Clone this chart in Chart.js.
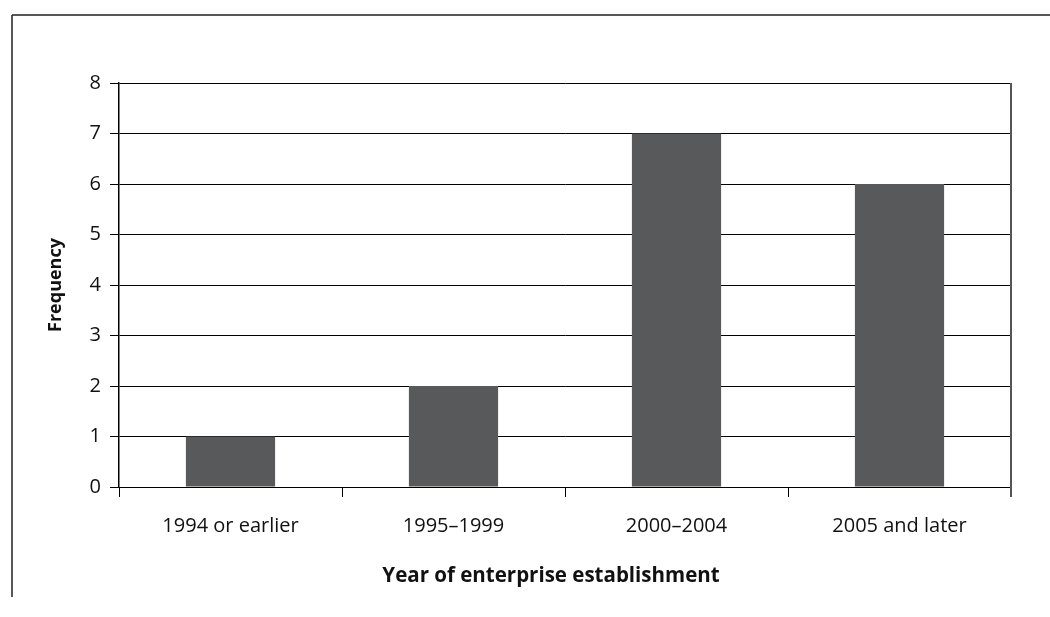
<!DOCTYPE html>
<html>
<head>
<meta charset="utf-8">
<script src="https://cdn.jsdelivr.net/npm/chart.js@4/dist/chart.umd.min.js"></script>
<style>
  html, body { margin: 0; padding: 0; background: #fff; }
  #wrap { width: 1050px; height: 617px; }
</style>
</head>
<body>
<div id="wrap"><canvas id="chart" width="1050" height="617"></canvas></div>
<script>
// establishment periods and how many enterprises fall in each
const periods = ["1994 or earlier", "1995\u20131999", "2000\u20132004", "2005 and later"];
const frequency = [1, 2, 7, 6];
const yTicks = [0, 1, 2, 3, 4, 5, 6, 7, 8];
const xTitle = "Year of enterprise establishment";

const FONT = "'Open Sans', Lato, sans-serif";

// thin frame along the top and left of the figure, right edge of the plot,
// and the x axis title (sits a little left of the plot centre)
const framePlugin = {
  id: "frame",
  beforeDraw(chart){
    const ctx = chart.ctx;
    ctx.save();
    ctx.strokeStyle = "#222";
    ctx.lineWidth = 1.5;
    ctx.beginPath();
    ctx.moveTo(12, 15);
    ctx.lineTo(1050, 15);
    ctx.moveTo(12, 15);
    ctx.lineTo(12, 597);
    ctx.stroke();
    ctx.restore();
  },
  afterDraw(chart){
    const a = chart.chartArea;
    const ctx = chart.ctx;
    ctx.save();
    ctx.strokeStyle = "#555";
    ctx.lineWidth = 2;
    ctx.beginPath();
    ctx.moveTo(a.right, a.top);
    ctx.lineTo(a.right, a.bottom + 10);
    ctx.stroke();

    ctx.fillStyle = "#111";
    ctx.font = "bold 20.5px " + FONT;
    ctx.textAlign = "center";
    ctx.textBaseline = "middle";
    ctx.fillText(xTitle, (a.left + a.right) / 2 - 14, 576);
    ctx.restore();
  }
};

new Chart(document.getElementById("chart").getContext("2d"), {
  type: "bar",
  data: {
    labels: periods,
    datasets: [{
      label: "Frequency",
      data: frequency,
      backgroundColor: "#58595b",
      borderWidth: 0,
      categoryPercentage: 0.4,
      barPercentage: 1.0
    }]
  },
  options: {
    responsive: false,
    animation: false,
    layout: { padding: { top: 83, right: 39, left: 45, bottom: 28 } },
    plugins: { legend: { display: false }, tooltip: { enabled: false } },
    scales: {
      x: {
        offset: true,
        grid: { offset: true, drawOnChartArea: false, drawTicks: true, tickLength: 10, color: "#000", lineWidth: 1 },
        border: { display: false },
        ticks: { color: "#111", font: { family: FONT, size: 20 }, padding: 17, maxRotation: 0 },
        title: { display: false },
        afterFit(scale){ scale.height = 617 - 487 - 28; }
      },
      y: {
        min: 0, max: 8,
        afterBuildTicks(scale){ scale.ticks = yTicks.map(v => ({ value: v })); },
        grid: { color: "#000", lineWidth: 1, tickLength: 9 },
        border: { display: true, color: "#000", width: 1.5 },
        ticks: { color: "#111", font: { family: FONT, size: 20 }, padding: 9 },
        title: { display: true, text: "Frequency", color: "#111",
                 font: { family: FONT, size: 18, weight: "bold" }, padding: { top: 0, bottom: 0 } },
        afterFit(scale){ scale.width = 119 - 45; }
      }
    }
  },
  plugins: [framePlugin]
});
</script>
</body>
</html>
